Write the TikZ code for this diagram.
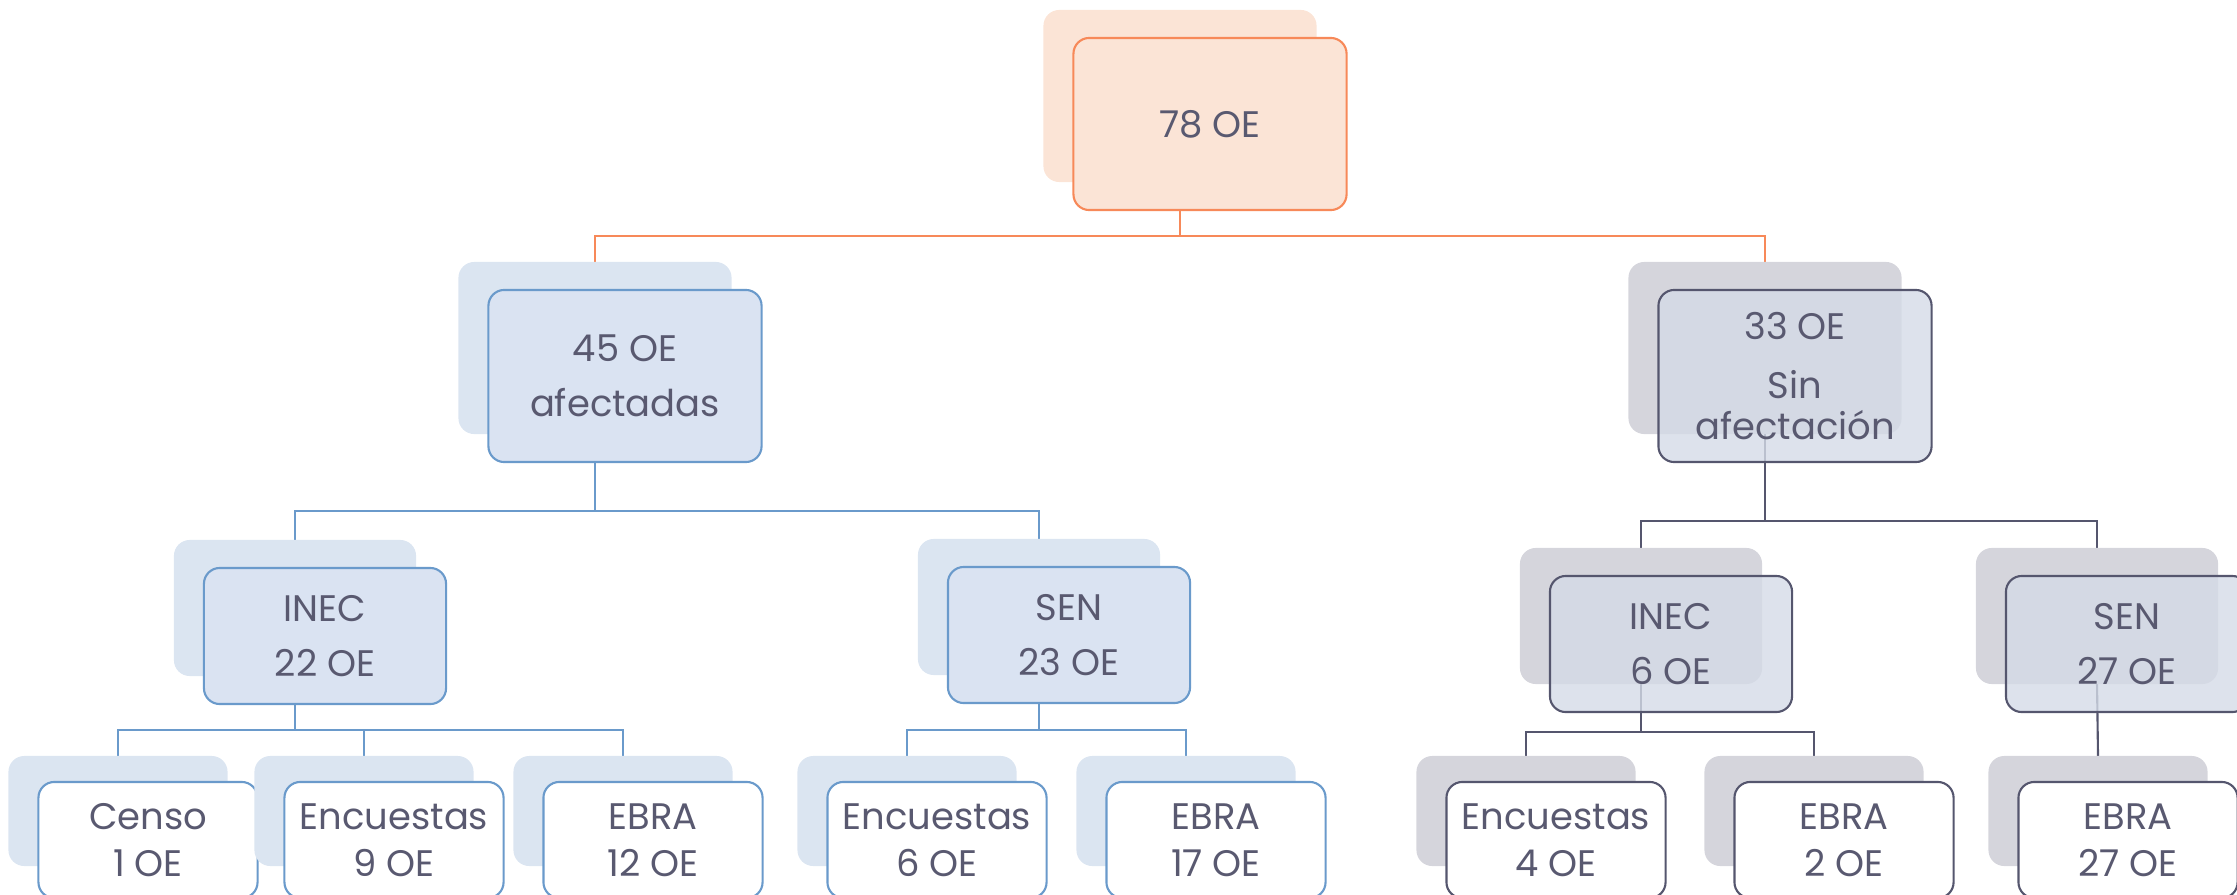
\documentclass[tikz,border=0pt]{standalone}
\usepackage{fontspec}
\setmainfont{Poppins}
\usetikzlibrary{backgrounds}
\definecolor{txtgrey}{RGB}{89,89,112}
\definecolor{orline}{RGB}{247,137,89}
\definecolor{orfill}{RGB}{251,228,214}
\definecolor{blline}{RGB}{106,154,203}
\definecolor{blfill}{RGB}{218,227,242}
\definecolor{blback}{RGB}{219,229,241}
\definecolor{grline}{RGB}{85,86,110}
\definecolor{grfill}{RGB}{212,219,231}
\definecolor{grback}{RGB}{213,213,220}
\tikzset{
  card/.style={rounded corners=4.5pt, line width=0.6pt, inner sep=0pt, outer sep=0pt,
    align=center, text=txtgrey, font=\fontsize{10.5}{15.8}\selectfont},
  shadowcard/.style={rounded corners=4.5pt, draw=none, inner sep=0pt, outer sep=0pt},
  topsize/.style={minimum width=2.73cm, minimum height=1.72cm},
  midsize/.style={minimum width=2.42cm, minimum height=1.36cm},
  leafsize/.style={minimum width=2.19cm, minimum height=1.10cm},
  orcard/.style={card, topsize, draw=orline, fill=orfill},
  orback/.style={shadowcard, topsize, fill=orfill},
  blcard/.style={card, draw=blline, fill=blfill},
  blback/.style={shadowcard, fill=blback},
  blleaf/.style={card, leafsize, minimum height=1.16cm, anchor=north, draw=blline, fill=white,
    font=\fontsize{10.5}{13.4}\selectfont},
  grcard/.style={card, draw=grline, fill=grfill, fill opacity=0.8, text opacity=1},
  grback/.style={shadowcard, fill=grback},
  grleaf/.style={card, leafsize, minimum height=1.16cm, anchor=north, draw=grline, fill=white,
    font=\fontsize{10.5}{13.4}\selectfont},
  orconn/.style={draw=orline, line width=0.6pt},
  blconn/.style={draw=blline, line width=0.6pt},
  grconn/.style={draw=grline, line width=0.6pt}
}
\begin{document}
\begin{tikzpicture}[x=0.01cm, y=-0.01cm]
    \useasboundingbox (0, 0) rectangle (2237, 894);

    \node[orback] (totb) at (1180, 96) {};
    \node[orcard] (tot) at ([shift={(30, 28)}]totb) {78 OE};

    \node[blback, topsize] (afeb) at (595, 348) {};
    \node[blcard, topsize] (afe) at ([shift={(30, 28)}]afeb) {45 OE\\afectadas};
    \node[grback, topsize] (sinb) at (1765, 348) {};
    \node[grcard, topsize, font=\fontsize{10.5}{11.4}\selectfont] (sin) at ([shift={(30, 28)}]sinb) {33 OE\\[5.4pt]Sin\\afectación};

    \node[blback, midsize] (ainecb) at (295, 608) {};
    \node[blcard, midsize] (ainec) at ([shift={(30, 28)}]ainecb) {INEC\\22 OE};
    \node[blback, midsize] (asenb) at (1039, 607) {};
    \node[blcard, midsize] (asen) at ([shift={(30, 28)}]asenb) {SEN\\23 OE};
    \node[grback, midsize] (sinecb) at (1641, 616) {};
    \node[grcard, midsize] (sinec) at ([shift={(30, 28)}]sinecb) {INEC\\6 OE};
    \node[grback, midsize] (ssenb) at (2097, 616) {};
    \node[grcard, midsize] (ssen) at ([shift={(30, 28)}]ssenb) {SEN\\27 OE};

    \node[blback, leafsize] (censob) at (118, 811) {};
    \node[blleaf] (censo) at ([shift={(30, 26)}]censob.north) {Censo\\1 OE};
    \node[blback, leafsize] (aencib) at (364, 811) {};
    \node[blleaf] (aenci) at ([shift={(30, 26)}]aencib.north) {Encuestas\\9 OE};
    \node[blback, leafsize] (aebrib) at (623, 811) {};
    \node[blleaf] (aebri) at ([shift={(30, 26)}]aebrib.north) {EBRA\\12 OE};
    \node[blback, leafsize] (aencsb) at (907, 811) {};
    \node[blleaf] (aencs) at ([shift={(30, 26)}]aencsb.north) {Encuestas\\6 OE};
    \node[blback, leafsize] (aebrsb) at (1186, 811) {};
    \node[blleaf] (aebrs) at ([shift={(30, 26)}]aebrsb.north) {EBRA\\17 OE};
    \node[grback, leafsize] (sencib) at (1526, 811) {};
    \node[grleaf] (senci) at ([shift={(30, 26)}]sencib.north) {Encuestas\\4 OE};
    \node[grback, leafsize] (sebrib) at (1814, 811) {};
    \node[grleaf] (sebri) at ([shift={(30, 26)}]sebrib.north) {EBRA\\2 OE};
    \node[grback, leafsize] (sebrsb) at (2098, 811) {};
    \node[grleaf] (sebrs) at ([shift={(30, 26)}]sebrsb.north) {EBRA\\27 OE};

    \begin{pgfonlayer}{background}
      \draw[orconn] (totb.south) -- (totb.south |- 0,236);
      \draw[orconn] (afeb.north) |- (totb.south |- 0,236) -| (sinb.north);

      \draw[blconn] (afeb.south) -- (afeb.south |- 0,511);
      \draw[blconn] (ainecb.north) |- (afeb.south |- 0,511) -| (asenb.north);
      \draw[grconn] (sinb.south) -- (sinb.south |- 0,521);
      \draw[grconn] (sinecb.north) |- (sinb.south |- 0,521) -| (ssenb.north);

      \draw[blconn] (ainecb.south) -- (ainecb.south |- 0,730);
      \draw[blconn] (censob.north) |- (ainecb.south |- 0,730) -| (aebrib.north);
      \draw[blconn] (aencib.north) -- (aencib.north |- 0,730);
      \draw[blconn] (asenb.south) -- (asenb.south |- 0,730);
      \draw[blconn] (aencsb.north) |- (asenb.south |- 0,730) -| (aebrsb.north);
      \draw[grconn] (sinecb.south) -- (sinecb.south |- 0,732);
      \draw[grconn] (sencib.north) |- (sinecb.south |- 0,732) -| (sebrib.north);
      \draw[grconn] (ssenb.south) -- (sebrsb.north);
    \end{pgfonlayer}
\end{tikzpicture}
\end{document}
